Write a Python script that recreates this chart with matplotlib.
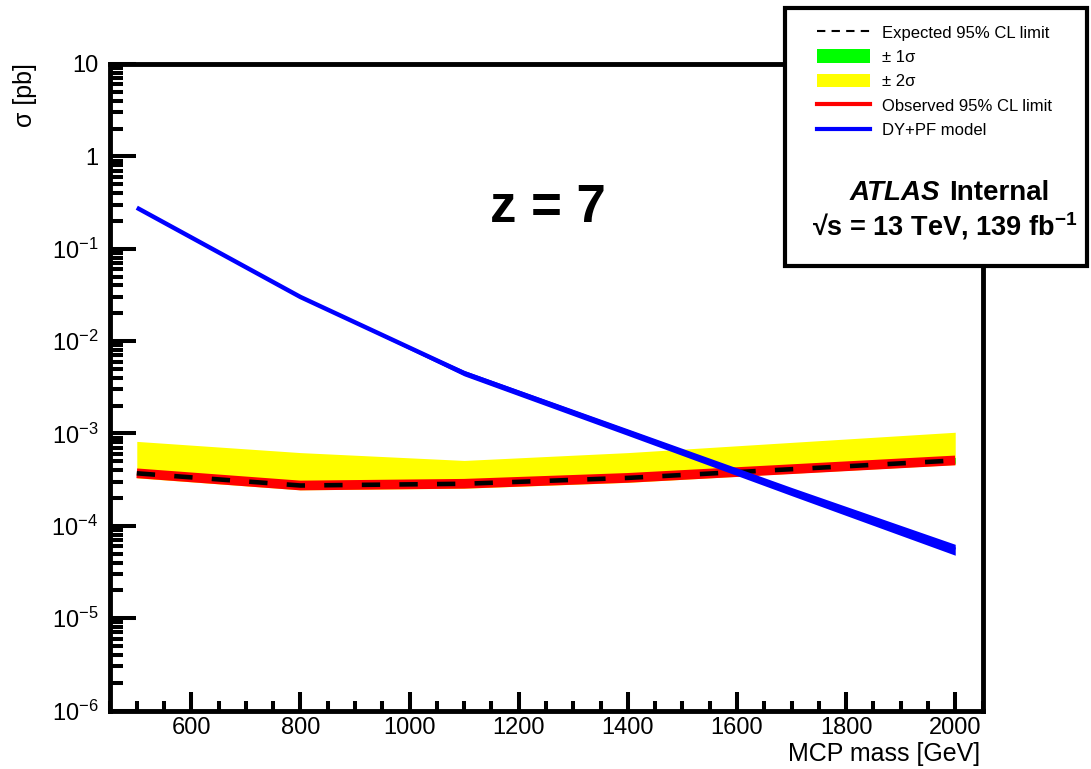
import numpy as np
import matplotlib
matplotlib.use("Agg")
import matplotlib.pyplot as plt
from matplotlib.lines import Line2D
from matplotlib.patches import Patch, Rectangle
from matplotlib.ticker import MultipleLocator, LogLocator, FuncFormatter, NullFormatter

plt.rcParams['font.family'] = ['Liberation Sans', 'DejaVu Sans']
plt.rcParams['mathtext.fontset'] = 'custom'
plt.rcParams['mathtext.rm'] = 'Liberation Sans'
plt.rcParams['mathtext.it'] = 'Liberation Sans:italic'
plt.rcParams['mathtext.bf'] = 'Liberation Sans:bold'

# MCP mass points [GeV]
mass = [500, 800, 1100, 1400, 1700, 2000]

# expected / observed 95% CL limits [pb]
expected = [3.7e-4, 2.73e-4, 2.85e-4, 3.3e-4, 4.1e-4, 5.1e-4]
observed = [3.7e-4, 2.73e-4, 2.85e-4, 3.3e-4, 4.1e-4, 5.1e-4]
sig1_up = [4.0e-4, 2.95e-4, 3.08e-4, 3.55e-4, 4.4e-4, 5.5e-4]
sig1_dn = [3.45e-4, 2.55e-4, 2.66e-4, 3.1e-4, 3.85e-4, 4.75e-4]
sig2_up = [8.2e-4, 6.2e-4, 5.1e-4, 6.2e-4, 8.0e-4, 1.03e-3]
sig2_dn = [3.3e-4, 2.45e-4, 2.55e-4, 2.95e-4, 3.7e-4, 4.6e-4]

# DY+PF model cross section [pb]
model = [0.278, 0.030, 4.5e-3, 1.03e-3, 2.35e-4, 5.5e-5]
model_up = [0.280, 0.030, 4.8e-3, 1.12e-3, 2.6e-4, 6.3e-5]
model_dn = [0.276, 0.030, 4.2e-3, 0.95e-3, 2.12e-4, 4.8e-5]

y_ticks = [1e-6, 1e-5, 1e-4, 1e-3, 1e-2, 1e-1, 1, 10]

W, H = 1091, 769
fig = plt.figure(figsize=(W / 100, H / 100), dpi=100)
L, R, T, B = 109.5, 982.5, 64, 710.5
ax = fig.add_axes([L / W, 1 - B / H, (R - L) / W, (B - T) / H])

ax.fill_between(mass, sig2_dn, sig2_up, color='#ffff00', lw=0, zorder=1)
ax.fill_between(mass, sig1_dn, sig1_up, color='#00ff00', lw=0, zorder=2)
ax.plot(mass, observed, color='#ff0000', lw=7, solid_capstyle='butt', zorder=3)
ax.plot(mass, expected, color='black', lw=3.3, dashes=(4.0, 4.2), zorder=4)
ax.fill_between(mass, model_dn, model_up, color='#0000ff', lw=0, zorder=5)
ax.plot(mass, model, color='#0000ff', lw=3.2, solid_capstyle='butt', zorder=5)

ax.set_yscale('log')
ax.set_xlim(450, 2050)
ax.set_ylim(1e-6, 10)

ax.xaxis.set_major_locator(MultipleLocator(200))
ax.xaxis.set_minor_locator(MultipleLocator(50))
ax.set_yticks(y_ticks)
ax.yaxis.set_minor_locator(LogLocator(base=10, subs=np.arange(2, 10), numticks=20))
ax.yaxis.set_minor_formatter(NullFormatter())


def ylab(v, pos):
    e = int(round(np.log10(v)))
    if e == 1:
        return '10'
    if e == 0:
        return '1'
    return r'$\mathdefault{10^{%d}}$' % e


ax.yaxis.set_major_formatter(FuncFormatter(ylab))

for s in ax.spines.values():
    s.set_linewidth(3.5)
ax.tick_params(axis='both', which='both', direction='in', width=2.9,
               top=False, right=False, colors='black')
ax.tick_params(axis='y', which='major', length=19, pad=8, labelsize=17)
ax.tick_params(axis='y', which='minor', length=9.7)
ax.tick_params(axis='x', which='major', length=14, pad=5, labelsize=17)
ax.tick_params(axis='x', which='minor', length=7)

ax.text(0.502, 0.755, 'z = 7', transform=ax.transAxes, ha='center', va='baseline',
        fontsize=38, fontweight='bold')

fig.text(25 / W, 1 - 63 / H, r'σ [pb]', rotation=90, ha='center', va='top', fontsize=18)
fig.text(980 / W, 1 - 761 / H, 'MCP mass [GeV]', ha='right', va='baseline', fontsize=18)

# legend box
fig.patches.append(Rectangle((785 / W, 1 - 266 / H), (1087 - 785) / W, (266 - 8) / H,
                             transform=fig.transFigure, facecolor='white',
                             edgecolor='black', lw=3, zorder=2))

handles = [Line2D([], [], color='black', lw=1.5, dashes=(4, 3)),
           Patch(facecolor='#00ff00', edgecolor='none'),
           Patch(facecolor='#ffff00', edgecolor='none'),
           Line2D([], [], color='#ff0000', lw=3),
           Line2D([], [], color='#0000ff', lw=3)]
labels = ['Expected 95% CL limit', r'± 1σ', r'± 2σ', 'Observed 95% CL limit', 'DY+PF model']
leg = fig.legend(handles, labels, loc='upper left', bbox_to_anchor=(817 / W, 1 - 25 / H),
                 frameon=False, fontsize=12, handlelength=3.2, handleheight=0.9,
                 handletextpad=0.68, labelspacing=0.52, borderpad=0, borderaxespad=0)
leg.set_zorder(6)

fig.text(940 / W, 1 - 200 / H, 'ATLAS', ha='right', va='baseline', fontsize=20,
         fontweight='bold', fontstyle='italic', zorder=6)
fig.text(949 / W, 1 - 200 / H, 'Internal', ha='left', va='baseline', fontsize=20,
         fontweight='bold', zorder=6)
fig.text(945 / W, 1 - 235 / H, r'√s = 13 TeV, 139 fb$^{\mathbf{-1}}$', ha='center',
         va='baseline', fontsize=19.5, fontweight='bold', zorder=6)

fig.savefig('out.png', dpi=100)
